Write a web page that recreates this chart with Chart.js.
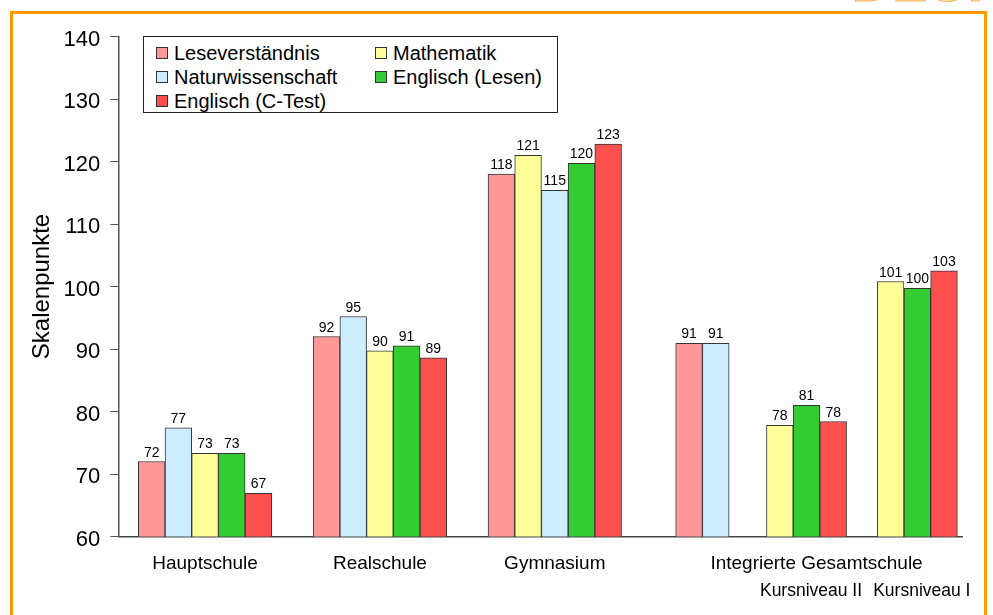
<!DOCTYPE html>
<html>
<head>
<meta charset="utf-8">
<script src="https://cdn.jsdelivr.net/npm/chart.js@4.4.1/dist/chart.umd.min.js"></script>
<style>
  html, body { margin: 0; padding: 0; background: #fff; }
  #wrap { position: relative; width: 993px; height: 615px; overflow: hidden; font-family: "Liberation Sans", Arial, sans-serif; }
  #frame { position: absolute; left: 10px; top: 11px; width: 977px; height: 700px; border: 3px solid #FF9900; box-sizing: border-box; }
  #logo { position: absolute; left: 852px; top: 0; width: 141px; height: 6px; overflow: hidden; }
  #logo span { position: absolute; left: 0; bottom: -3px; font: bold 52px "Liberation Sans", Arial, sans-serif; color: #FFE3B0; -webkit-text-stroke: 1px #F2B35A; letter-spacing: 3px; line-height: 52px; }
  #chartBox { position: absolute; left: 0; top: 0; width: 993px; height: 615px; }
  #legend { position: absolute; left: 143px; top: 36px; width: 415px; height: 77px; border: 1px solid #222; box-sizing: border-box; background: #fff; }
  .item { position: absolute; height: 24px; line-height: 24px; font-size: 20px; color: #000; white-space: nowrap; }
  .sw { position: absolute; left: 0; top: 6px; width: 12px; height: 12px; border: 1px solid #333; box-sizing: border-box; }
  .lt { position: absolute; left: 18px; top: 0; }
</style>
</head>
<body>
<div id="wrap">
  <div id="frame"></div>
  <div id="logo"><span>DESI</span></div>
  <div id="chartBox"><canvas id="c"></canvas></div>
  <div id="legend"></div>
</div>
<script>
// ---------- DATA ----------
const categories = ["Hauptschule", "Realschule", "Gymnasium", "Integrierte Gesamtschule"];
const subLabels = ["Kursniveau II", "Kursniveau I"];
const seriesNames = ["Leseverständnis", "Mathematik", "Naturwissenschaft", "Englisch (Lesen)", "Englisch (C-Test)"];
// segments: Hauptschule, Realschule, Gymnasium, IGS, IGS Kursniveau II, IGS Kursniveau I
const leseverstaendnis = [72.0, 92.0, 118.0, 90.9, null, null];
const mathematik       = [73.3, 89.7, 121.0, null, 77.8, 100.8];
const naturwissenschaft= [77.4, 95.2, 115.4, 90.9, null, null];
const englischLesen    = [73.3, 90.5, 119.7, null, 81.0, 99.7];
const englischCTest    = [66.9, 88.6, 122.8, null, 78.4, 102.5];
const yTickValues = [60, 70, 80, 90, 100, 110, 120, 130, 140];

// ---------- LAYOUT ----------
const seriesValues = [leseverstaendnis, mathematik, naturwissenschaft, englischLesen, englischCTest];
const seriesColors = ["#FF9999", "#FFFF99", "#CCECFF", "#33CC33", "#FF5050"];
// order of series within each segment (indices into seriesNames)
const segmentOrder = [[0,2,1,3,4],[0,2,1,3,4],[0,1,2,3,4],[0,2],[1,3,4],[1,3,4]];
const segmentGaps = [0, 1.55, 1.55, 2.03, 1.4, 1.15]; // gap before each segment, in bar widths

const segStart = [];
let pos = 0;
segmentOrder.forEach((ord, s) => { pos += segmentGaps[s]; segStart.push(pos); pos += ord.length; });
const totalEnd = pos;
const catCenters = [segStart[0] + 2.5, segStart[1] + 2.5, segStart[2] + 2.5, (segStart[3] + totalEnd) / 2];
const subCenters = [segStart[4] + 1.5, segStart[5] + 1.5];

const datasets = seriesNames.map((name, si) => {
  const pts = [];
  segmentOrder.forEach((ord, s) => {
    const k = ord.indexOf(si);
    const v = seriesValues[si][s];
    if (k >= 0 && v !== null) pts.push({ x: segStart[s] + k + 0.5, y: v });
  });
  return {
    label: name, data: pts, grouped: false,
    backgroundColor: seriesColors[si], borderColor: "#333", borderWidth: 1,
    barPercentage: 1, categoryPercentage: 1
  };
});

// ---------- LEGEND (HTML) ----------
const legendEl = document.getElementById('legend');
const legendOrder = [0, 1, 2, 3, 4];
legendOrder.forEach((si, i) => {
  const col = i % 2, row = Math.floor(i / 2);
  const d = document.createElement('div');
  d.className = 'item';
  d.style.left = (col === 0 ? 12 : 231) + 'px';
  d.style.top = (4 + row * 24) + 'px';
  d.innerHTML = '<span class="sw" style="background:' + seriesColors[si] + '"></span><span class="lt"></span>';
  d.querySelector('.lt').textContent = seriesNames[si];
  legendEl.appendChild(d);
});

// ---------- VALUE LABELS ----------
const valueLabels = {
  id: 'valueLabels',
  afterDatasetsDraw(chart) {
    const ctx = chart.ctx;
    ctx.save();
    ctx.font = '14px "Liberation Sans", Arial, sans-serif';
    ctx.fillStyle = '#000';
    ctx.textAlign = 'center';
    ctx.textBaseline = 'alphabetic';
    chart.data.datasets.forEach((ds, di) => {
      chart.getDatasetMeta(di).data.forEach((el, i) => {
        ctx.fillText(String(Math.round(ds.data[i].y)), el.x, el.y - 5);
      });
    });
    ctx.restore();
  }
};

const FONT = '"Liberation Sans", Arial, sans-serif';
new Chart(document.getElementById('c'), {
  type: 'bar',
  data: { datasets },
  plugins: [valueLabels],
  options: {
    responsive: true, maintainAspectRatio: false, animation: false,
    layout: { padding: { left: 0, right: 30.3, top: 36.5, bottom: 0 } },
    plugins: { legend: { display: false }, tooltip: { enabled: false } },
    scales: {
      x: {
        type: 'linear', position: 'bottom', offset: false,
        min: segStart[0] - 0.75, max: totalEnd + 0.2,
        grid: { display: false, drawTicks: false },
        border: { display: true, color: '#444', width: 1.5 },
        afterBuildTicks: (s) => { s.ticks = catCenters.map(v => ({ value: v })); },
        afterFit: (s) => { s.height = 40; },
        ticks: {
          autoSkip: false, maxRotation: 0, padding: 16, color: '#000',
          font: { size: 19, family: FONT },
          callback: (v, i) => categories[i]
        }
      },
      x2: {
        type: 'linear', position: 'bottom', offset: false,
        min: segStart[0] - 0.75, max: totalEnd + 0.2,
        grid: { display: false, drawTicks: false },
        border: { display: false },
        afterBuildTicks: (s) => { s.ticks = subCenters.map(v => ({ value: v })); },
        afterFit: (s) => { s.height = 38.5; },
        ticks: {
          autoSkip: false, maxRotation: 0, padding: 4, labelOffset: 4.5, color: '#000',
          font: { size: 17.5, family: FONT },
          callback: (v, i) => subLabels[i]
        }
      },
      y: {
        min: 60, max: 140,
        afterBuildTicks: (s) => { s.ticks = yTickValues.map(v => ({ value: v })); },
        afterFit: (s) => { s.width = 118.3; },
        grid: { display: true, drawOnChartArea: false, drawTicks: true, tickLength: 8, color: '#555' },
        border: { display: true, color: '#555', width: 1.5 },
        ticks: {
          padding: 10, color: '#000', font: { size: 22, family: FONT, lineHeight: '6px' },
          callback: (v) => ['', String(v)]
        },
        title: { display: true, text: 'Skalenpunkte', color: '#000', font: { size: 24, family: FONT }, padding: { top: 27.6, bottom: 0 } }
      }
    }
  }
});
</script>
</body>
</html>
